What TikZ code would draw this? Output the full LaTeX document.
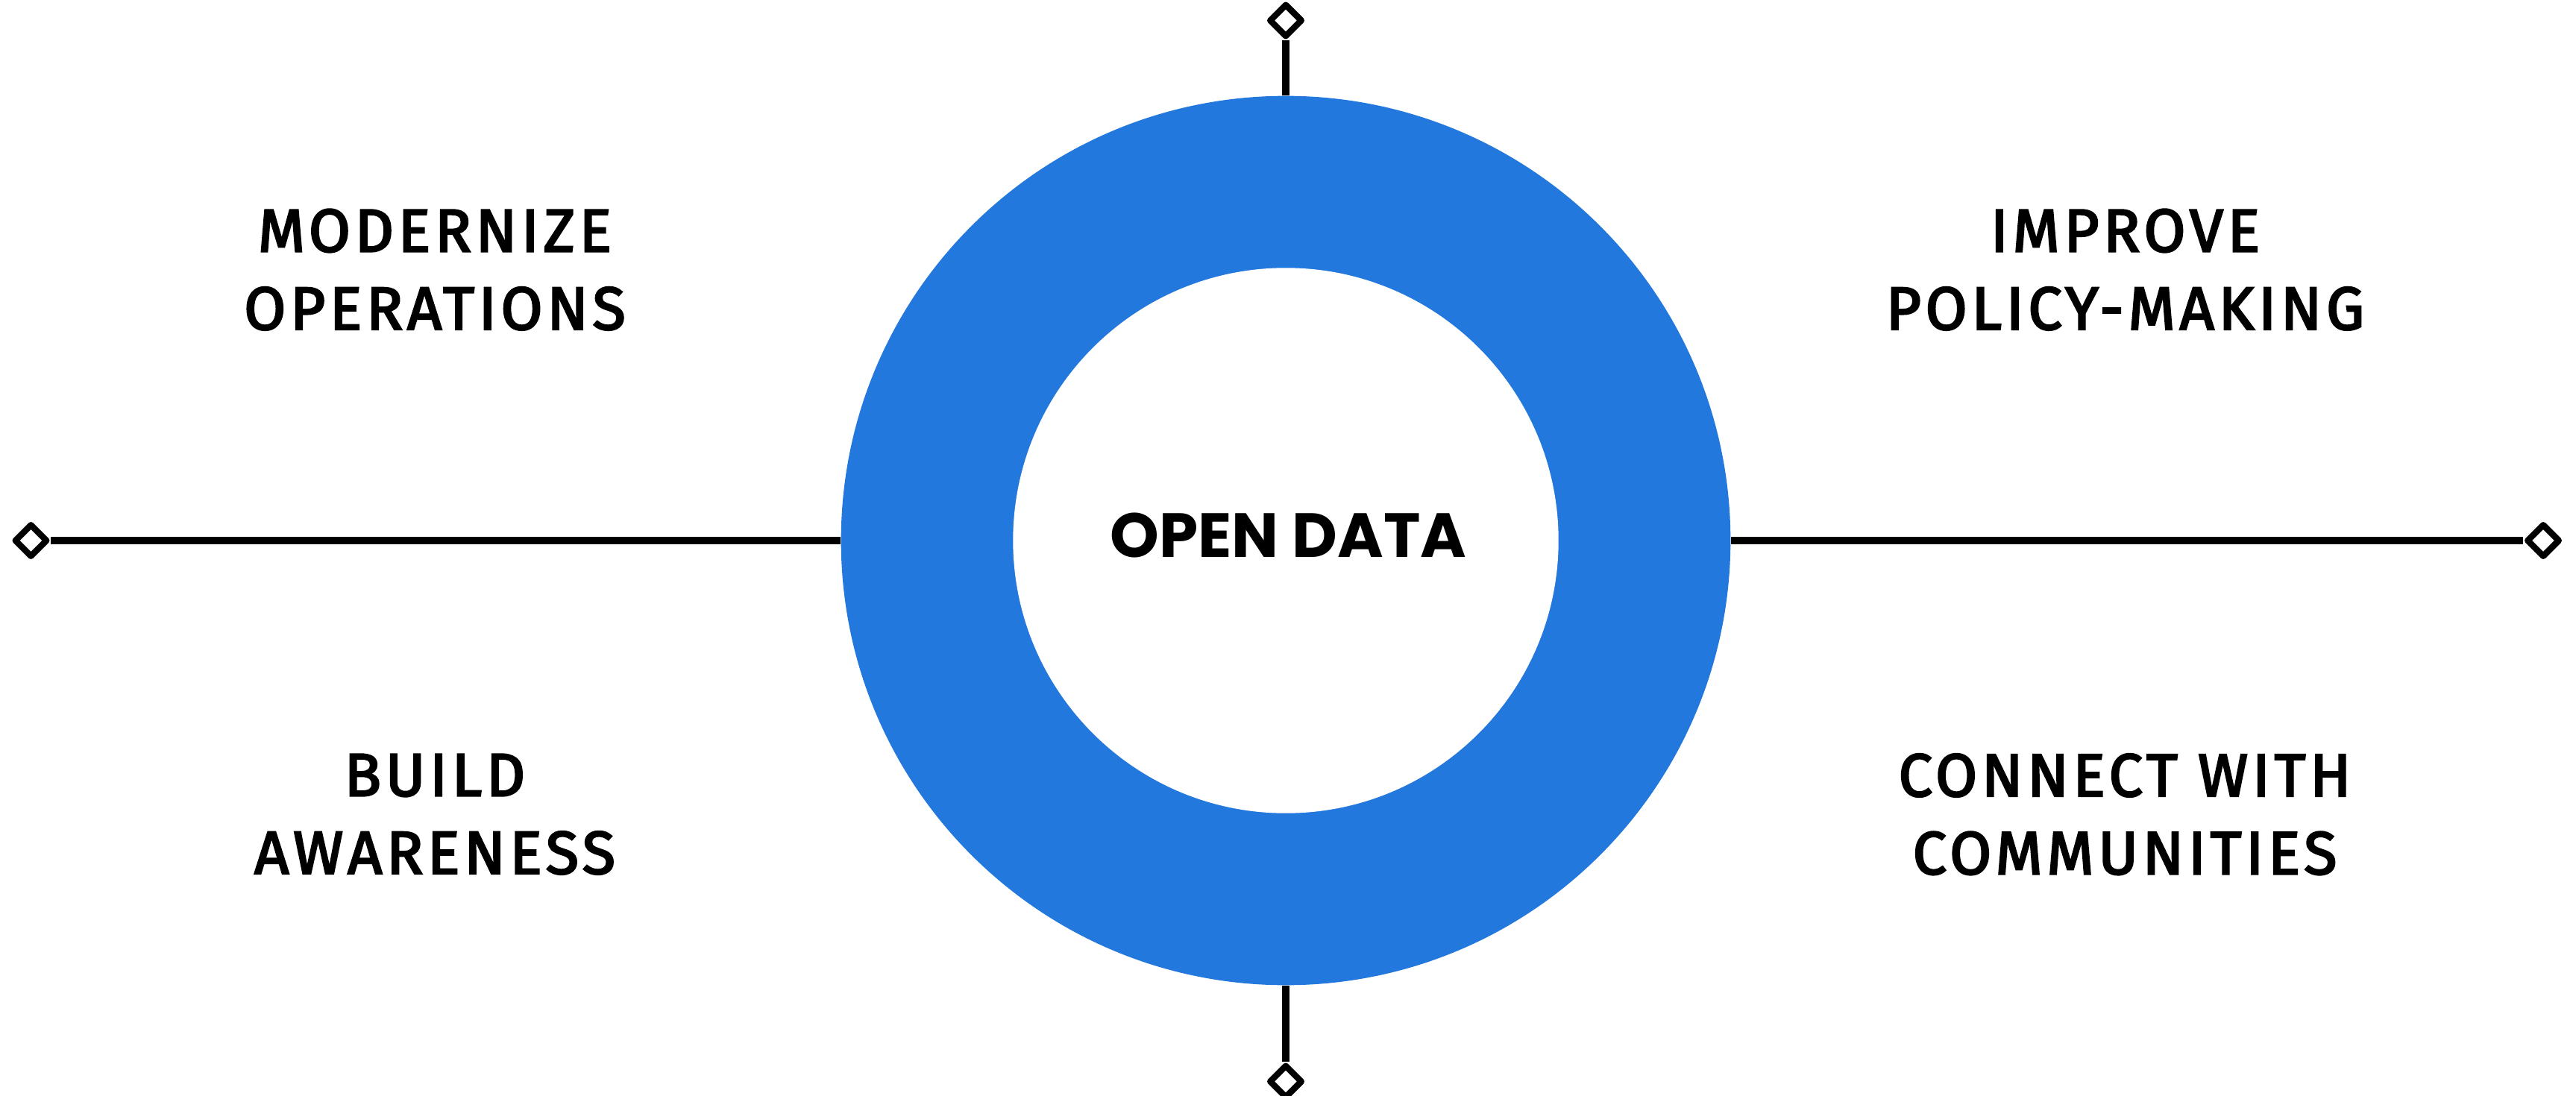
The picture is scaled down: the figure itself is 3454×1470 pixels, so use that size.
\documentclass[tikz,border=0pt]{standalone}
\usepackage{fontspec}
\newfontfamily\lblfont[LetterSpace=7,FakeBold=3]{Fira Sans}
\newfontfamily\odfont[LetterSpace=0]{Poppins}
\usetikzlibrary{shapes.geometric}
\definecolor{ringblue}{RGB}{34,120,220}
\begin{document}
\begin{tikzpicture}[x=0.01cm,y=-0.01cm,
  conn/.style={line width=2.85pt, black},
  tipbox/.style={diamond, draw=black, line width=2.4pt, line join=round, fill=white,
    inner sep=0pt, minimum width=0.45cm, minimum height=0.45cm, aspect=1},
  lbl/.style={align=center, font=\lblfont\fontsize{23.1}{29.7}\selectfont, inner sep=0pt}]
\useasboundingbox (0,0) rectangle (3454,1470);
\node[circle, fill=ringblue, minimum size=11.92cm, inner sep=0pt] (ring) at (1724,725) {};
\node[circle, fill=white, minimum size=7.31cm, inner sep=0pt] (hole) at (1724,725) {};
\node[font=\odfont\bfseries\fontsize{23.8}{30}\selectfont, inner sep=0pt] (od) at (1727.5,717.5) {OPEN DATA};
\node[tipbox] (ldia) at (41.5,725) {};
\node[tipbox] (rdia) at (3410,725) {};
\node[tipbox] (tdia) at (1724,27.5) {};
\node[tipbox] (bdia) at (1724,1450.5) {};
\draw[conn] (ldia) -- (ring);
\draw[conn] (rdia) -- (ring);
\draw[conn] (tdia) -- (ring);
\draw[conn] (bdia) -- (ring);
\node[lbl] (mo) at (583,361.7) {MODERNIZE\\OPERATIONS};
\node[lbl] (ip) at (2849.5,361.7) {IMPROVE\\POLICY-MAKING};
\node[lbl] (ba) at (583,1092.2) {BUILD\\AWARENESS};
\node[lbl] (cc) at (2849,1092.2) {CONNECT WITH\\COMMUNITIES};
\end{tikzpicture}
\end{document}
